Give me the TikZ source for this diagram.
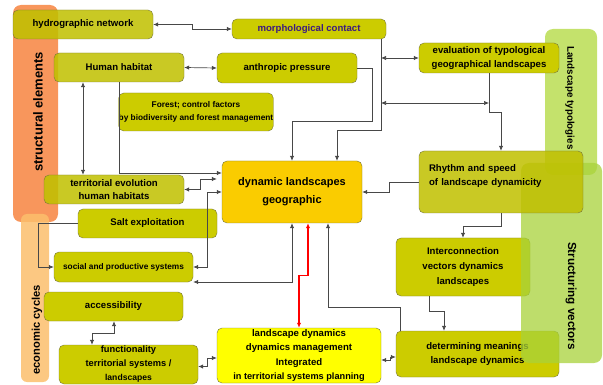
\documentclass[tikz,border=0pt]{standalone}
\usepackage{fontspec}
\setmainfont{Liberation Sans}
\usetikzlibrary{arrows.meta}

\definecolor{olivefill}{HTML}{CCCC00}
\definecolor{oliveline}{HTML}{77773A}
\definecolor{goldfill}{HTML}{FACC00}
\definecolor{mgmtfill}{HTML}{FFFF00}
\definecolor{structfill}{HTML}{F8965C}
\definecolor{ecofill}{HTML}{FCBE6C}
\definecolor{typofill}{HTML}{C4E26C}
\definecolor{vectorfill}{HTML}{A8D23A}
\definecolor{morphtext}{HTML}{3C1A80}
\definecolor{linkgray}{HTML}{484848}

\tikzset{
    olivebox/.style={rounded corners=5pt, draw=oliveline, fill=olivefill, align=center,
        inner sep=0pt, font=\fontsize{9.6}{14}\selectfont\bfseries},
    seethru/.style={fill=olivefill!94!black, fill opacity=0.86, text opacity=1, draw opacity=1},
    smalltext/.style={font=\fontsize{8.3}{12.5}\selectfont\bfseries},
    conn/.style={draw=linkgray, line width=0.7pt},
    redconn/.style={draw=red, line width=1.3pt},
    bartext/.style={font=\fontsize{13}{15}\selectfont\bfseries},
}

\def\xdrop{381}
\def\ydrop{130}

\begin{document}
\begin{tikzpicture}[x=1pt, y=-1pt, >={Latex[length=5pt,width=4.4pt]}]
    \useasboundingbox (0,0) rectangle (603,385);

    \fill[typofill, rounded corners=8pt] (545,29) rectangle (597,175);
    \fill[structfill, rounded corners=8pt] (13,5) rectangle (58,222);
    \fill[ecofill, rounded corners=6pt, fill opacity=0.85] (21,214) rectangle (49,382);

    \node[olivebox, seethru, minimum width=140pt, minimum height=29pt] (hydro_network) at (83,24.5) {hydrographic network};
    \node[olivebox, minimum width=154pt, minimum height=20pt, text=morphtext] (morph_contact) at (309,29) {morphological contact};
    \node[olivebox, seethru, minimum width=130pt, minimum height=29pt] (human_habitat) at (119,67.5) {Human habitat};
    \node[olivebox, minimum width=140pt, minimum height=30pt] (anthropic_pressure) at (287,68) {anthropic pressure};
    \node[olivebox, smalltext, minimum width=148pt, minimum height=38pt] (forest_factors) at (196,112)
      {Forest; control factors\\by biodiversity and forest management};
    \node[olivebox, minimum width=140pt, minimum height=30pt] (typo_evaluation) at (489,58)
      {evaluation of typological\\geographical landscapes};

    \node[olivebox, fill=goldfill, minimum width=140pt, minimum height=62pt,
      font=\fontsize{11}{18}\selectfont\bfseries] (dyn_landscapes) at (292,192)
      {dynamic landscapes\\geographic};

    \node[olivebox, seethru, minimum width=140pt, minimum height=29pt,
      font=\fontsize{9.6}{12.5}\selectfont\bfseries] (territorial_evolution) at (114,189.5)
      {territorial evolution\\human habitats};
    \node[olivebox, minimum width=139pt, minimum height=29pt] (salt_exploitation) at (147.5,223.5) {Salt exploitation};
    \node[olivebox, smalltext, minimum width=139pt, minimum height=30pt] (social_systems) at (123.5,267) {social and productive systems};
    \node[olivebox, minimum width=139pt, minimum height=29pt] (accessibility) at (113.5,306.5) {accessibility};
    \node[olivebox, minimum width=139pt, minimum height=39pt,
      font=\fontsize{9.3}{14}\selectfont\bfseries] (functionality) at (128.5,364.5)
      {functionality\\territorial systems /\\{\fontsize{8.6}{11}\selectfont landscapes}};

    \node[olivebox, fill=mgmtfill, minimum width=164pt, minimum height=55pt,
      font=\fontsize{9.6}{14.5}\selectfont\bfseries] (landscape_mgmt) at (299,355.5)
      {landscape dynamics\\dynamics management\\Integrated\\{\fontsize{9.2}{11}\selectfont in territorial systems planning}};
    \node[olivebox, minimum width=134pt, minimum height=58pt,
      font=\fontsize{9.6}{15}\selectfont\bfseries] (interconnection) at (463,267)
      {Interconnection\\vectors dynamics\\landscapes};
    \node[olivebox, minimum width=163pt, minimum height=46pt] (determining) at (477.5,354)
      {determining meanings\\landscape dynamics};

    \fill[vectorfill, rounded corners=8pt, fill opacity=0.75] (521,163) rectangle (602,363);

    \node[olivebox, seethru, minimum width=164pt, minimum height=62pt, text width=144pt, align=left] (rhythm_speed) at (501,182)
      {\raisebox{6pt}[\height][\depth]{\begin{tabular}{@{}l@{}}Rhythm and speed\\of landscape dynamicity\end{tabular}}};

    \coordinate (morph_drop) at (\xdrop,\ydrop);
    \coordinate (typo_link) at (489,103);

    \draw[conn, <->] (hydro_network.east) -- ++(39,0) |- (morph_contact.west);
    \draw[conn, <->] (human_habitat.east) -- (anthropic_pressure.west);
    \draw[conn, ->] (morph_contact.south east -| morph_drop) -- (morph_drop) -| ([xshift=45pt]dyn_landscapes.north);
    \draw[conn, ->] (anthropic_pressure.east) -| ++(15,53) -| (dyn_landscapes.north);
    \draw[conn, <->] (typo_evaluation.west -| morph_drop) -- (typo_evaluation.west);
    \draw[conn, <->] (morph_drop |- typo_link) -- (typo_link);
    \draw[conn, ->] (typo_evaluation.south) -- ++(0,39) -| (rhythm_speed.north);
    \draw[conn, ->] (rhythm_speed.west) -- ++(-29,0) |- (dyn_landscapes.east);
    \draw[conn, ->] (rhythm_speed.south) -- ++(0,13) -| (interconnection.north);
    \draw[conn, ->] ([xshift=-34pt]interconnection.south) -- ++(0,15) -| ([xshift=-33.5pt]determining.north);
    \draw[conn, ->] ([xshift=-77.5pt]determining.north) -- ++(0,-23) -| ([xshift=36pt]dyn_landscapes.south);
    \draw[conn, <->] ([yshift=-4.5pt]landscape_mgmt.east) -- ++(9,0) |- ([yshift=-3pt]determining.west);
    \draw[redconn, <->] ([xshift=16pt]dyn_landscapes.south) -- ++(0,52) -| (landscape_mgmt.north);
    \draw[conn, <->] (dyn_landscapes.south) |- ([yshift=-15pt]social_systems.east);
    \draw[conn, <->] (dyn_landscapes.west) -- ++(-14,0) |- (social_systems.east);
    \draw[conn, <->, shorten >=5pt] (territorial_evolution.east) -- ++(16,0) |- ([yshift=13pt]dyn_landscapes.west);
    \draw[conn, ->] (human_habitat.south) |- ([yshift=19pt]dyn_landscapes.west);
    \draw[conn, <->] ([xshift=-36pt]human_habitat.south) -- ([xshift=-31pt]territorial_evolution.north);
    \draw[conn, ->] (salt_exploitation.west) -- ++(-39,0) |- (social_systems.west);
    \draw[conn, <->] ([xshift=0.5pt]accessibility.south) -- ++(0,12) -| ([xshift=-36.5pt]functionality.north);
    \draw[conn, <->] ([yshift=-2pt]functionality.east) -- ++(9,0) |- ([yshift=-2.5pt]landscape_mgmt.west);

    \node[bartext, rotate=90] (structural_label) at (38,112) {structural elements};
    \node[bartext, rotate=90, font=\fontsize{11.2}{13}\selectfont\bfseries] (economic_label) at (37,330) {economic cycles};
    \node[bartext, rotate=-90, font=\fontsize{9.8}{12}\selectfont\bfseries] (typology_label) at (570,98) {Landscape typologies};
    \node[bartext, rotate=-90, font=\fontsize{11.7}{13}\selectfont\bfseries] (vector_label) at (571,296) {Structuring vectors};
\end{tikzpicture}
\end{document}
